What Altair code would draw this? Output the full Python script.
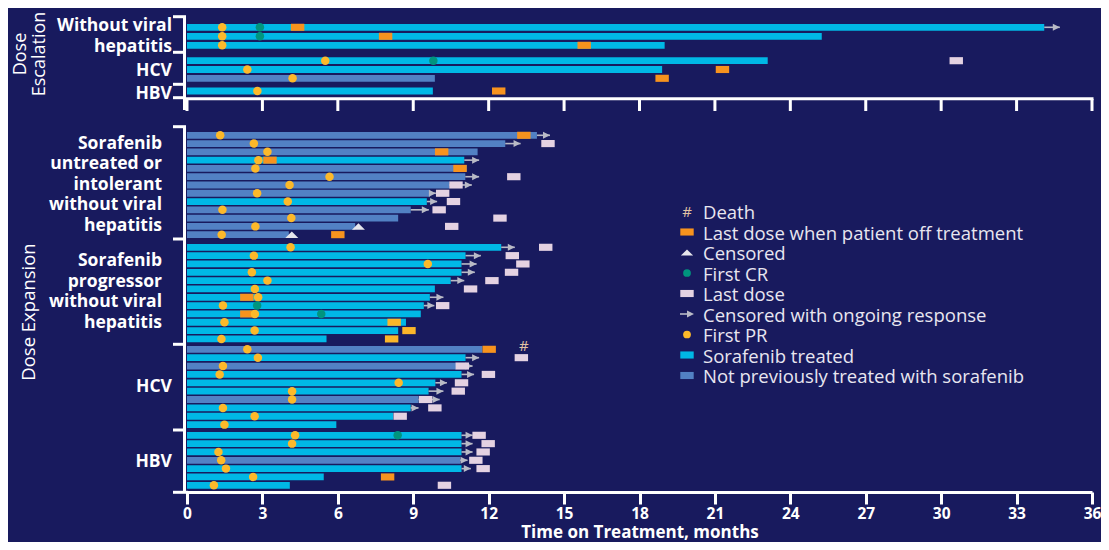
import altair as alt
import pandas as pd

N = None
# ---------------- data (months) ----------------
group_labels = ["Without viral\nhepatitis", "HCV", "HBV",
                "Sorafenib\nuntreated or\nintolerant\nwithout viral\nhepatitis",
                "Sorafenib\nprogressor\nwithout viral\nhepatitis", "HCV", "HBV"]
group_sizes = [3, 3, 1, 13, 12, 10, 7]

# S = Sorafenib treated, N = Not previously treated with sorafenib
row_prior = (["S", "S", "S", "S", "S", "N", "S"]
             + ["N", "N", "N", "S", "N", "N", "N", "N", "S", "N", "N", "N", "N"]
             + ["S"] * 12
             + ["N", "S", "N", "S", "S", "S", "N", "S", "S", "S"]
             + ["S", "S", "S", "N", "S", "S", "S"])
row_end = ([34.1, 25.25, 19.0, 23.1, 18.9, 9.86, 9.78]
           + [13.92, 12.66, 11.56, 11.03, 11.13, 11.07, 10.44, 9.67, 9.54, 8.9, 8.4, 6.69, 4.05]
           + [12.5, 11.08, 10.92, 10.92, 10.49, 9.86, 9.66, 9.42, 9.3, 8.71, 8.4, 5.55]
           + [11.75, 11.08, 10.7, 10.92, 9.88, 9.61, 9.21, 8.9, 8.2, 5.94]
           + [10.92, 10.92, 10.92, 10.87, 10.92, 5.44, 4.09])
row_pr = ([1.4, 1.4, 1.4, 5.5, 2.4, 4.2, 2.8]
          + [1.32, 2.66, 3.2, 2.84, 2.72, 5.67, 4.08, 2.79, 4.01, 1.41, 4.15, 2.72, 1.38]
          + [4.12, 2.66, 9.58, 2.58, 3.2, 2.7, 2.83, 1.43, 2.7, 1.49, 2.69, 1.37]
          + [2.4, 2.82, 1.43, 1.3, 8.42, 4.18, 4.18, 1.43, 2.69, 1.49]
          + [4.3, 4.18, 1.25, 1.36, 1.55, 2.63, 1.07])
row_cr = ([2.9, 2.9, N, 9.8, N, N, N]
          + [N] * 13
          + [N] * 7 + [2.79, 5.34, N, N, N]
          + [N] * 10
          + [8.38] + [N] * 6)
row_off = ([4.4, 7.9, 15.8, N, 21.3, 18.9, 12.4]
           + [13.4, N, 10.13, 3.3, 10.86, N, N, N, N, N, N, N, 6.0]
           + [N] * 6 + [2.38, N, 2.38, N, N, N]
           + [12.02] + [N] * 9
           + [N] * 5 + [7.98, N])
row_off_amber = [N] * 7 + [N] * 13 + [N] * 9 + [8.24, 8.83, 8.14] + [N] * 10 + [N] * 7
row_last = ([N, N, N, 30.6, N, N, N]
            + [N, 14.36, N, N, N, 13.0, 10.7, 10.17, 10.6, 10.03, 12.45, 10.53, N]
            + [14.27, 12.94, 13.36, 12.91, 12.13, 11.28, N, 10.17, N, N, N, N]
            + [N, 13.3, 10.95, 11.99, 10.92, 10.79, 9.49, 9.86, 8.48, N]
            + [11.62, 11.98, 11.78, 11.49, 11.78, N, 10.24])
row_arrow = ([34.72, N, N, N, N, N, N]
             + [14.44, 13.27, N, 11.62, N, 11.62, 11.33, 9.9, 9.95, 9.62, N, N, N]
             + [13.04, 11.69, 11.52, 11.45, 11.03, N, 10.2, 9.84, N, N, N, N]
             + [N, 11.62, 11.36, 11.42, 10.34, 10.2, 10.05, 9.21, N, N]
             + [11.36, 11.36, 11.36, 11.16, 11.29, N, N])
row_cens = [N] * 7 + [N] * 11 + [6.82, 4.17] + [N] * 12 + [N] * 10 + [N] * 7
row_death = [N] * 7 + [N] * 13 + [N] * 12 + [13.4] + [N] * 9 + [N] * 7

tick_values = list(range(0, 37, 3))
legend_labels = ["Death", "Last dose when patient off treatment", "Censored", "First CR",
                 "Last dose", "Censored with ongoing response", "First PR",
                 "Sorafenib treated", "Not previously treated with sorafenib"]

# ---------------- styling / layout ----------------
BG = "#181A5E"
CYAN = "#00B8E6"
BLUE = "#5281C4"
ORANGE = "#F7931E"
AMBER = "#FBB62A"
YELLOW = "#FDB92A"
TEAL = "#00957E"
PINK = "#E4D2E2"
GRAY = "#B9BAC6"
CENS = "#E6E6EC"
DEATH = "#E2C4A4"
WHITE = "#FFFFFF"
LEG_TXT = "#E8E6F0"
FONT = "Open Sans"

W, H = 905, 473
PAD_L, PAD_T, PAD_R, PAD_B = 179, 11, 9, 50
TOP = 8 + PAD_T  # page y of plot top
LEFT = 8 + PAD_L


def py(page_y):
    return page_y - TOP


def pxl(page_x):
    return page_x - LEFT


group_start = [27.3, 60.7, 91.0, 135.3, 247.3, 349.3, 435.3]
group_pitch = [9.0, 8.8, 9.0, 8.28, 8.33, 8.37, 8.33]

pos = []
grp = []
for g, n in enumerate(group_sizes):
    for i in range(n):
        pos.append(py(group_start[g] + i * group_pitch[g]))
        grp.append(g)

rows = pd.DataFrame({
    "pos": pos, "grp": grp, "prior": row_prior, "start": [0.0] * len(pos),
    "end": row_end, "pr": row_pr, "cr": row_cr, "off": row_off, "amber": row_off_amber,
    "last": row_last, "arrow": row_arrow, "cens": row_cens, "death": row_death,
})


def sub(col):
    d = rows[["pos", "end", col]].dropna()
    return d.rename(columns={col: "v"})


xscale = alt.Scale(domain=[0, 36], nice=False, zero=False)
yscale = alt.Scale(domain=[0, H], nice=False, zero=False, reverse=True)
xaxis = alt.Axis(values=tick_values, format="d", title="Time on Treatment, months",
                 grid=False, domainColor=WHITE, domainWidth=3, tickColor=WHITE,
                 tickWidth=3, tickSize=12, labelColor=WHITE, labelFont=FONT,
                 labelFontSize=15.5, labelFontWeight="bold", labelPadding=2, labelFlush=False,
                 titleColor=WHITE, titleFont=FONT, titleFontSize=17,
                 titleFontWeight="bold", titleBaseline="alphabetic", titleY=45.5)


def X(f):
    return alt.X(f"{f}:Q", scale=xscale, axis=xaxis)


def Y(f="pos"):
    return alt.Y(f"{f}:Q", scale=yscale, axis=None)


RECT = "M-1,-0.53L1,-0.53L1,0.53L-1,0.53Z"
TRI_UP = "M-1,0.5L0,-0.5L1,0.5Z"
HEAD = "M-1,-1L1,0L-1,1Z"

bars = alt.Chart(rows).mark_rule(strokeWidth=6.8, strokeCap="butt").encode(
    x=X("start"),
    x2="end:Q",
    y=Y(),
    color=alt.Color("prior:N", scale=alt.Scale(domain=["S", "N"], range=[CYAN, BLUE]), legend=None),
)

arrow_lines = alt.Chart(sub("arrow")).mark_rule(strokeWidth=1.6, color=GRAY).encode(
    x=X("end"), x2="v:Q", y=Y())
arrow_heads = alt.Chart(sub("arrow")).mark_point(
    shape=HEAD, size=49, filled=True, opacity=1, color=GRAY, xOffset=-3.5).encode(x=X("v"), y=Y())

last_boxes = alt.Chart(sub("last")).mark_point(
    shape=RECT, size=180, filled=True, opacity=1, color=PINK).encode(x=X("v"), y=Y())
off_boxes = alt.Chart(sub("off")).mark_point(
    shape=RECT, size=180, filled=True, opacity=1, color=ORANGE).encode(x=X("v"), y=Y())
amber_boxes = alt.Chart(sub("amber")).mark_point(
    shape=RECT, size=180, filled=True, opacity=1, color=AMBER).encode(x=X("v"), y=Y())
cens_tri = alt.Chart(sub("cens")).mark_point(
    shape=TRI_UP, size=169, filled=True, opacity=1, color=CENS).encode(x=X("v"), y=Y())
pr_dots = alt.Chart(sub("pr")).mark_circle(size=72, opacity=1, color=YELLOW).encode(x=X("v"), y=Y())
cr_dots = alt.Chart(sub("cr")).mark_circle(size=72, opacity=1, color=TEAL).encode(x=X("v"), y=Y())
death_txt = alt.Chart(sub("death")).mark_text(
    text="#", font=FONT, fontSize=15, color=DEATH, dy=-3, baseline="middle").encode(x=X("v"), y=Y())

# ---------------- brackets and top-panel axis ----------------
br_h = pd.DataFrame({"y": [py(v) for v in [16.7, 52.3, 84.3, 97.7, 126.7, 239.0, 344.3, 430.0]]})
br_v = pd.DataFrame({"y": [py(16.7), py(126.7)], "y2": [py(110.0), py(492.3)]})
bracket_h = alt.Chart(br_h).mark_rule(strokeWidth=3, color=WHITE).encode(
    x=alt.value(pxl(173)), x2=alt.value(pxl(186)), y=Y("y"))
bracket_bottom = alt.Chart(pd.DataFrame({"y": [py(492.3)]})).mark_rule(strokeWidth=3, color=WHITE).encode(
    x=alt.value(pxl(173)), x2=alt.value(1), y=Y("y"))
bracket_v = alt.Chart(br_v).mark_rule(strokeWidth=3, color=WHITE).encode(
    x=alt.value(pxl(184.5)), y=Y("y"), y2="y2:Q")
top_axis = alt.Chart(pd.DataFrame({"y": [py(98.7)]})).mark_rule(strokeWidth=3, color=WHITE).encode(
    x=alt.value(pxl(184)), x2=alt.value(W + 1.5), y=Y("y"))
top_ticks = alt.Chart(pd.DataFrame({"t": tick_values, "y": [py(99)] * len(tick_values),
                                    "y2": [py(111)] * len(tick_values)})).mark_rule(
    strokeWidth=3, color=WHITE).encode(x=X("t"), y=Y("y"), y2="y2:Q")

# ---------------- group labels ----------------
LH_S, LH_L = 21.5, 20.5
centers = rows.groupby("grp")["pos"].mean().tolist()
nlines = [len(s.split("\n")) for s in group_labels]
anchor = []
for g in range(7):
    lh = LH_L if g in (3, 4) else LH_S
    anchor.append(centers[g] - (nlines[g] - 1) * lh / 2)
lab = pd.DataFrame({"label": group_labels, "y": anchor, "grp": list(range(7))})
lab.loc[2, "y"] += 3
lab.loc[1, "y"] += 1
lab.loc[6, "y"] += 1.5
lab.loc[4, "y"] -= 1
lab_short = alt.Chart(lab[lab.grp.isin([0, 1, 2, 5, 6])]).mark_text(
    align="right", baseline="middle", font=FONT, fontSize=17.5, fontWeight="bold",
    color=WHITE, lineBreak="\n", lineHeight=LH_S).encode(
    x=alt.value(pxl(172)), y=Y("y"), text="label:N")
lab_long = alt.Chart(lab[lab.grp.isin([3, 4])]).mark_text(
    align="right", baseline="middle", font=FONT, fontSize=17.5, fontWeight="bold",
    color=WHITE, lineBreak="\n", lineHeight=LH_L).encode(
    x=alt.value(pxl(162)), y=Y("y"), text="label:N")

side = pd.DataFrame({"label": ["Dose\nEscalation", "Dose Expansion"],
                     "y": [py(54), py(312)], "x": [0, 1]})
side_esc = alt.Chart(side[side.x == 0]).mark_text(
    align="center", baseline="middle", angle=270, font=FONT, fontSize=18, color=WHITE,
    lineBreak="\n", lineHeight=19).encode(x=alt.value(pxl(21)), y=Y("y"), text="label:N")
side_exp = alt.Chart(side[side.x == 1]).mark_text(
    align="center", baseline="middle", angle=270, font=FONT, fontSize=18.5, color=WHITE).encode(
    x=alt.value(pxl(29)), y=Y("y"), text="label:N")

# ---------------- legend ----------------
leg_sym = ["death", "off", "cens", "cr", "last", "arrow", "pr", "S", "N"]
leg_col = [DEATH, ORANGE, CENS, TEAL, PINK, GRAY, YELLOW, CYAN, BLUE]
leg = pd.DataFrame({"label": legend_labels, "sym": leg_sym, "col": leg_col,
                    "ty": [py(213 + i * 20.5) for i in range(len(legend_labels))]})
leg["sy"] = leg["ty"] - 1.5
LX = pxl(687)
leg_text = alt.Chart(leg).mark_text(
    align="left", baseline="middle", font=FONT, fontSize=18.5, color=LEG_TXT).encode(
    x=alt.value(pxl(703)), y=Y("ty"), text="label:N")
leg_rect = alt.Chart(leg[leg.sym.isin(["off", "last", "S", "N"])]).mark_point(
    shape=RECT, size=180, filled=True, opacity=1).encode(
    x=alt.value(LX), y=Y("sy"), color=alt.Color("col:N", scale=None))
leg_circ = alt.Chart(leg[leg.sym.isin(["cr", "pr"])]).mark_circle(size=60, opacity=1).encode(
    x=alt.value(LX), y=Y("sy"), color=alt.Color("col:N", scale=None))
leg_tri = alt.Chart(leg[leg.sym == "cens"]).mark_point(
    shape=TRI_UP, size=150, filled=True, opacity=1, color=CENS).encode(x=alt.value(LX), y=Y("sy"))
leg_hash = alt.Chart(leg[leg.sym == "death"]).mark_text(
    text="#", font=FONT, fontSize=15, color=DEATH, baseline="middle").encode(x=alt.value(LX), y=Y("sy"))
leg_arrow_line = alt.Chart(leg[leg.sym == "arrow"]).mark_rule(strokeWidth=1.6, color=GRAY).encode(
    x=alt.value(pxl(680)), x2=alt.value(pxl(690)), y=Y("sy"))
leg_arrow_head = alt.Chart(leg[leg.sym == "arrow"]).mark_point(
    shape=HEAD, size=49, filled=True, opacity=1, color=GRAY).encode(x=alt.value(pxl(690.5)), y=Y("sy"))

chart = alt.layer(
    bars, arrow_lines, arrow_heads, last_boxes, off_boxes, amber_boxes, cens_tri,
    pr_dots, cr_dots, death_txt,
    bracket_h, bracket_bottom, bracket_v, top_axis, top_ticks,
    lab_short, lab_long, side_esc, side_exp,
    leg_text, leg_rect, leg_circ, leg_tri, leg_hash, leg_arrow_line, leg_arrow_head,
).properties(
    width=W, height=H,
    padding={"left": PAD_L, "top": PAD_T, "right": PAD_R, "bottom": PAD_B},
    autosize=alt.AutoSizeParams(type="none"),
    background=BG,
).configure_view(stroke=None)

chart.save("out.html", embed_options={"renderer": "svg", "actions": False})
